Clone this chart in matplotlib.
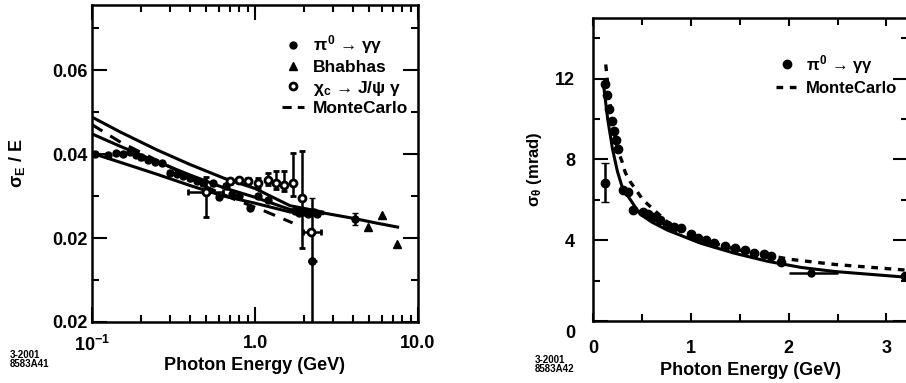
import matplotlib
matplotlib.use("Agg")
import matplotlib.pyplot as plt
import matplotlib.transforms as mtransforms
from matplotlib.lines import Line2D

plt.rcParams['font.family'] = ['Liberation Sans', 'DejaVu Sans']
plt.rcParams['font.weight'] = 'bold'
plt.rcParams['axes.labelweight'] = 'bold'
plt.rcParams['mathtext.fontset'] = 'custom'
plt.rcParams['mathtext.rm'] = 'Liberation Sans:bold'
plt.rcParams['mathtext.it'] = 'Liberation Sans:bold'
plt.rcParams['mathtext.bf'] = 'Liberation Sans:bold'

# ---- left panel: energy resolution ----
pi0_e = [0.105, 0.125, 0.14, 0.155, 0.17, 0.185, 0.20, 0.22, 0.245, 0.27, 0.30, 0.33,
         0.36, 0.40, 0.44, 0.48, 0.55, 0.60, 0.66, 0.72, 0.80, 0.93, 1.05, 1.2,
         1.75, 1.85, 2.0, 2.1, 2.3, 2.4, 2.23, 4.1]
pi0_v = [0.0400, 0.0398, 0.0402, 0.0400, 0.0405, 0.0398, 0.0392, 0.0386, 0.0381, 0.0378, 0.0356, 0.0352,
         0.0348, 0.0342, 0.0335, 0.0330, 0.0330, 0.0298, 0.0325, 0.0305, 0.0300, 0.0272, 0.0300, 0.0290,
         0.0265, 0.0260, 0.0262, 0.0258, 0.0262, 0.0258, 0.0145, 0.0245]
pi0_err = [0.0005] * 30 + [0.0150, 0.0015]

chic_e = [0.5, 0.7, 0.8, 0.9, 1.05, 1.2, 1.35, 1.5, 1.7, 1.94, 2.2]
chic_v = [0.0310, 0.0335, 0.0338, 0.0336, 0.0330, 0.0338, 0.0332, 0.0326, 0.0330, 0.0295, 0.0214]
chic_lo = [0.0060, 0.0006, 0.0006, 0.0008, 0.0010, 0.0012, 0.0015, 0.0015, 0.0030, 0.0119, 0.0005]
chic_hi = [0.0036, 0.0006, 0.0006, 0.0008, 0.0012, 0.0018, 0.0028, 0.0034, 0.0072, 0.0112, 0.0005]
chic_xlo = [0.11, 0, 0, 0, 0, 0, 0, 0, 0, 0, 0.22]
chic_xhi = [0.14, 0, 0, 0, 0, 0, 0, 0, 0, 0, 0.35]

bha_e = [4.9, 6.0, 7.4]
bha_v = [0.0226, 0.0255, 0.0186]

band_e = [0.1, 0.15, 0.25, 0.4, 0.64, 1.0, 1.64, 2.6]
band_up = [0.0488, 0.0452, 0.0410, 0.0375, 0.0343, 0.0318, 0.0277, 0.0262]
band_lo = [0.0402, 0.0380, 0.0352, 0.0325, 0.0300, 0.0283, 0.0262, 0.0258]
fit_e = [0.1, 0.15, 0.25, 0.4, 0.64, 1.0, 1.64, 2.6, 4.0, 5.5, 7.5]
fit_v = [0.0448, 0.0418, 0.0382, 0.0350, 0.0320, 0.0297, 0.0268, 0.0260, 0.0247, 0.0236, 0.0226]
mc_e = [0.1, 0.15, 0.25, 0.38, 0.5, 0.75, 1.1, 1.4, 1.7]
mc_v = [0.0470, 0.0428, 0.0385, 0.0350, 0.0322, 0.0292, 0.0267, 0.0250, 0.0236]

# ---- right panel: angular resolution ----
th_e = [0.126, 0.14, 0.16, 0.19, 0.21, 0.23, 0.26, 0.31, 0.36, 0.41, 0.51, 0.56, 0.61, 0.68,
        0.76, 0.83, 0.9, 1.0, 1.07, 1.15, 1.24, 1.35, 1.45, 1.55, 1.65, 1.75, 1.82, 1.92, 3.19]
th_v = [11.75, 11.2, 10.5, 9.9, 9.4, 8.95, 8.5, 6.5, 6.4, 5.5, 5.4, 5.3, 5.15, 5.0,
        4.75, 4.65, 4.6, 4.3, 4.1, 4.0, 3.85, 3.7, 3.6, 3.5, 3.35, 3.3, 3.2, 2.9, 2.25]
th_out_e, th_out_v, th_out_err = 0.126, 6.85, 0.95
th_hi_e, th_hi_v = 2.23, 2.4
th_fit_e = [0.11, 0.15, 0.2, 0.25, 0.3, 0.41, 0.48, 0.6, 0.76, 1.1, 1.45, 1.79, 2.13, 2.47, 3.25]
th_fit_v = [11.6, 10.0, 8.5, 7.4, 6.6, 5.8, 5.3, 4.9, 4.5, 3.85, 3.35, 2.95, 2.65, 2.45, 2.15]
th_mc_e = [0.13, 0.16, 0.2, 0.25, 0.3, 0.33, 0.38, 0.51, 0.76, 1.1, 1.45, 2.02, 2.47, 3.25]
th_mc_v = [12.7, 11.3, 9.8, 8.5, 7.85, 7.35, 6.9, 6.0, 4.9, 4.05, 3.55, 3.05, 2.8, 2.5]

fig = plt.figure(figsize=(9.06, 3.83), dpi=100)
ax1 = fig.add_axes([92 / 906, 61 / 383, 326 / 906, 317 / 383])
ax2 = fig.add_axes([593 / 906, 62 / 383, 315 / 906, 303 / 383])

k = 'black'
ax1.plot(band_e, band_up, color=k, lw=2.2)
ax1.plot(band_e, band_lo, color=k, lw=2.2)
ax1.plot(fit_e, fit_v, color=k, lw=2.2)
ax1.plot(mc_e, mc_v, color=k, lw=2.2, dashes=(4, 3))
ax1.errorbar(pi0_e, pi0_v, yerr=pi0_err, fmt='o', color=k, ms=5, capsize=2, elinewidth=1.8)
ax1.errorbar(2.23, 0.0145, xerr=[[0.13], [0.17]], fmt='o', color=k, ms=5, elinewidth=1.8)
ax1.plot(bha_e, bha_v, '^', color=k, ms=6)
ax1.errorbar(chic_e, chic_v, yerr=[chic_lo, chic_hi], xerr=[chic_xlo, chic_xhi], fmt='o',
             color=k, mfc='white', mew=2, ms=5, capsize=2, elinewidth=1.8)

ax1.set_xscale('log')
ax1.set_xlim(0.1, 10)
ax1.set_ylim(0, 0.0755)
ax1.set_xticks([0.1, 1, 10])
ax1.set_xticklabels(['10$^{-1}$', '1.0', '10.0'])
ax1.set_yticks([0, 0.02, 0.04, 0.06])
ax1.set_yticklabels(['0.02', '0.02', '0.04', '0.06'])
ax1.set_yticks([0.01, 0.03, 0.05, 0.07], minor=True)
ax1.set_xlabel('Photon Energy (GeV)', fontsize=13, labelpad=2)
ax1.set_ylabel(r'$\sigma_E$ / E', fontsize=13, labelpad=18)
h1 = [Line2D([], [], ls='none', marker='o', color=k, ms=5),
      Line2D([], [], ls='none', marker='^', color=k, ms=6),
      Line2D([], [], ls='none', marker='o', color=k, mfc='white', mew=2, ms=5),
      Line2D([], [], color=k, lw=2.2, dashes=(3, 2))]
l1 = [r'$\pi^0$ → $\gamma\gamma$', 'Bhabhas', r'$\chi_c$ → J/$\psi$ $\gamma$', 'MonteCarlo']
ax1.legend(h1, l1, loc='upper right', bbox_to_anchor=(0.97, 0.91),
           frameon=False, fontsize=12.5, handlelength=1.3, handletextpad=0.5,
           labelspacing=0.2, borderpad=0, borderaxespad=0)

ax2.plot(th_fit_e, th_fit_v, color=k, lw=2.2)
ax2.plot(th_mc_e, th_mc_v, color=k, lw=2.4, dashes=(2, 2))
ax2.plot(th_e, th_v, 'o', color=k, ms=6)
ax2.errorbar(th_out_e, th_out_v, yerr=th_out_err, fmt='o', color=k, ms=6, capsize=3, elinewidth=1.8)
ax2.errorbar(th_hi_e, th_hi_v, xerr=[[0.23], [0.27]], fmt='o', color=k, ms=5, elinewidth=1.8)
ax2.set_xlim(0, 3.22)
ax2.set_ylim(0, 15)
ax2.set_xticks([0, 1, 2, 3])
ax2.set_xticks([0.5, 1.5, 2.5], minor=True)
ax2.set_yticks([0, 4, 8, 12])
ax2.set_yticks([2, 6, 10, 14], minor=True)
ax2.set_xlabel('Photon Energy (GeV)', fontsize=13, labelpad=3)
ax2.set_ylabel(r'$\sigma_\theta$ (mrad)', fontsize=12, labelpad=8)
h2 = [Line2D([], [], ls='none', marker='o', color=k, ms=6),
      Line2D([], [], color=k, lw=2.4, dashes=(2, 2))]
l2 = [r'$\pi^0$ → $\gamma\gamma$', 'MonteCarlo']
ax2.legend(h2, l2, loc='upper right', bbox_to_anchor=(0.965, 0.885),
           frameon=False, fontsize=12, handlelength=1.3, handletextpad=0.5,
           labelspacing=0.3, borderpad=0, borderaxespad=0)

for ax in (ax1, ax2):
    for s in ax.spines.values():
        s.set_linewidth(1.8)
    ax.tick_params(which='both', direction='in', top=True, right=True, labelsize=13, width=1.5)
    ax.tick_params(which='major', length=11)
    ax.tick_params(which='minor', length=5)
ax1.tick_params(axis='x', which='major', pad=9)
ax1.tick_params(axis='y', which='major', pad=3)
ax2.tick_params(axis='x', which='major', length=6, pad=14)
ax2.tick_params(axis='y', which='major', pad=13)

# the "0" of the right panel sits below the axis
off = mtransforms.ScaledTranslation(0, -0.1, fig.dpi_scale_trans)
lab0 = ax2.get_yticklabels()[0]
lab0.set_transform(lab0.get_transform() + off)

fig.text(10 / 906, 1 - 355 / 383, '3-2001', fontsize=7, va='center')
fig.text(10 / 906, 1 - 364 / 383, '8583A41', fontsize=7, va='center')
fig.text(535 / 906, 1 - 360 / 383, '3-2001', fontsize=7, va='center')
fig.text(535 / 906, 1 - 369 / 383, '8583A42', fontsize=7, va='center')

fig.savefig('out.png', dpi=100)
